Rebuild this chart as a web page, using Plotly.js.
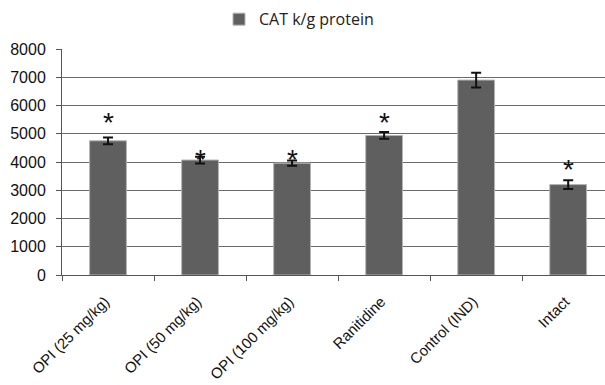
<!DOCTYPE html>
<html>
<head>
<meta charset="utf-8">
<script src="https://cdn.plot.ly/plotly-3.0.1.min.js"></script>
<style>html,body{margin:0;padding:0;background:#fff;}#chart{width:605px;height:385px;}</style>
</head>
<body>
<div id="chart"></div>
<script>
// Data
const categories = ["OPI (25 mg/kg)", "OPI (50 mg/kg)", "OPI (100 mg/kg)", "Ranitidine", "Control (IND)", "Intact"];
const catValues = [4750, 4070, 3960, 4940, 6900, 3200];
const catErrors = [120, 120, 90, 120, 260, 155];
// significance markers: label and height (null = none)
const sigLabels = ["*", "*", "*", "*", "", "*"];
const sigHeights = [5640, 4350, 4350, 5650, null, 3970];
const seriesName = "CAT k/g protein";
const yTicks = [0, 1000, 2000, 3000, 4000, 5000, 6000, 7000, 8000];

const fontFam = "Liberation Sans, Arial, sans-serif";

const traces = [{
  type: "bar",
  name: seriesName,
  x: categories,
  y: catValues,
  width: 0.4,
  marker: {color: "#5f5f5f", line: {color: "#b4b4b4", width: 1}},
  error_y: {type: "data", array: catErrors, visible: true, color: "#111", thickness: 2, width: 5},
  showlegend: true
}];

const annotations = [];
categories.forEach((c, i) => {
  if (sigLabels[i] && sigHeights[i] !== null) {
    annotations.push({
      x: c, y: sigHeights[i], xref: "x", yref: "y",
      text: sigLabels[i], showarrow: false,
      xanchor: "center", yanchor: "middle", yshift: -7,
      font: {family: fontFam, size: 28, color: "#111"}
    });
  }
});

const layout = {
  width: 605, height: 385,
  margin: {l: 62, r: 0, t: 49, b: 110, pad: 0},
  paper_bgcolor: "#fff", plot_bgcolor: "#fff",
  bargap: 0.6,
  showlegend: true,
  legend: {
    orientation: "h", xref: "container", yref: "container",
    x: 0.362, xanchor: "left", y: 0.95, yanchor: "middle",
    font: {family: "Open Sans, sans-serif", size: 16, color: "#222"},
    itemwidth: 30
  },
  xaxis: {
    type: "category",
    range: [-0.5, 5.4],
    tickvals: categories,
    ticktext: categories.map(c => c + "\u00A0"),
    showline: true, linecolor: "#555", linewidth: 1,
    ticks: "outside", tickson: "boundaries", ticklen: 5, tickcolor: "#555",
    tickangle: -45,
    ticklabelstandoff: 8,
    tickfont: {family: fontFam, size: 15, color: "#111"},
    showgrid: false, zeroline: false,
    fixedrange: true
  },
  yaxis: {
    range: [0, 8000],
    tickvals: yTicks,
    ticktext: yTicks.map(String),
    showline: true, linecolor: "#555", linewidth: 1,
    ticks: "outside", ticklen: 5, tickcolor: "#555",
    ticklabelstandoff: 7,
    tickfont: {family: fontFam, size: 16, color: "#111"},
    showgrid: true, gridcolor: "#6a6a6a", gridwidth: 1,
    zeroline: false,
    fixedrange: true
  },
  annotations: annotations
};

Plotly.newPlot("chart", traces, layout, {staticPlot: true, displayModeBar: false});
</script>
</body>
</html>
